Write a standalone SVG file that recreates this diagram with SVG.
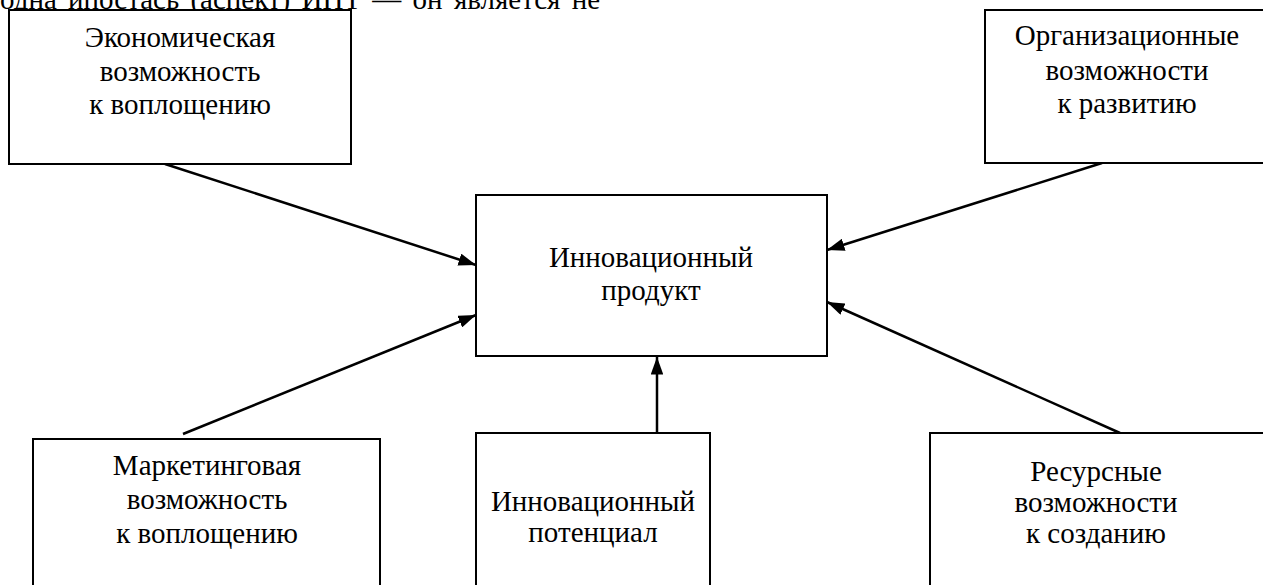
<svg xmlns="http://www.w3.org/2000/svg" width="1263" height="585" viewBox="0 0 1263 585">
<style>
text{font-family:'Liberation Serif','Times New Roman',serif;fill:#000}
.box{fill:#fff;stroke:#000;stroke-width:2}
.t{font-size:29px;text-anchor:middle}
.c{stroke:#000;stroke-width:2.5;fill:none;marker-end:url(#ah)}
</style>
<defs>
<marker id="ah" viewBox="0 0 10 10" refX="10" refY="5" markerWidth="7" markerHeight="5" markerUnits="strokeWidth" orient="auto" preserveAspectRatio="none">
<path d="M0,0 L10,5 L0,10 z" fill="#000"/>
</marker>
</defs>
<rect width="1263" height="585" fill="#fff"/>
<text x="0" y="9" font-size="29" word-spacing="4">одна ипостась (аспект) ИПТ — он является не</text>
<g id="connectors">
<line class="c" x1="165" y1="164" x2="476" y2="265"/>
<line class="c" x1="183" y1="434" x2="476" y2="315"/>
<line class="c" x1="1102" y1="163" x2="827" y2="250"/>
<line class="c" x1="1120" y1="433" x2="827" y2="302"/>
<line class="c" x1="657" y1="433" x2="657" y2="357"/>
</g>
<g id="econ">
<rect class="box" x="9" y="10" width="342" height="154"/>
<text class="t" x="180" y="47">Экономическая</text>
<text class="t" x="180" y="81">возможность</text>
<text class="t" x="180" y="114">к воплощению</text>
</g>
<g id="org">
<rect class="box" x="985" y="10" width="290" height="153"/>
<text class="t" x="1127" y="45">Организационные</text>
<text class="t" x="1127" y="80">возможности</text>
<text class="t" x="1127" y="113">к развитию</text>
</g>
<g id="product">
<rect class="box" x="476" y="195" width="351" height="161"/>
<text class="t" x="651" y="267">Инновационный</text>
<text class="t" x="651" y="300">продукт</text>
</g>
<g id="market">
<rect class="box" x="33" y="439" width="347" height="160"/>
<text class="t" x="207" y="475">Маркетинговая</text>
<text class="t" x="207" y="509">возможность</text>
<text class="t" x="207" y="543">к воплощению</text>
</g>
<g id="potential">
<rect class="box" x="476" y="433" width="234" height="170"/>
<text class="t" x="593" y="511">Инновационный</text>
<text class="t" x="593" y="542">потенциал</text>
</g>
<g id="resources">
<rect class="box" x="930" y="433" width="345" height="170"/>
<text class="t" x="1096" y="481">Ресурсные</text>
<text class="t" x="1096" y="512">возможности</text>
<text class="t" x="1096" y="543">к созданию</text>
</g>
</svg>
